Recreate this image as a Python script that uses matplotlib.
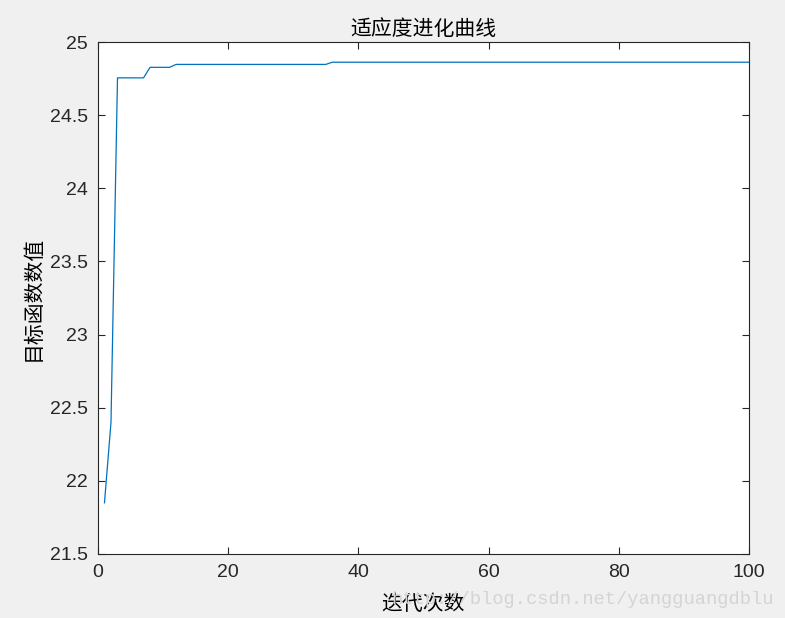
import matplotlib
matplotlib.use("Agg")
import matplotlib.pyplot as plt

# 迭代次数 1..100 与每代的最优目标函数值
iterations = list(range(1, 101))
fitness = ([21.85, 22.40]
           + [24.755] * 5
           + [24.827] * 4
           + [24.847] * 24
           + [24.862] * 65)

x_ticks = [0, 20, 40, 60, 80, 100]
y_ticks = [21.5, 22, 22.5, 23, 23.5, 24, 24.5, 25]
y_tick_labels = ["21.5", "22", "22.5", "23", "23.5", "24", "24.5", "25"]

title = "适应度进化曲线"
x_label = "迭代次数"
y_label = "目标函数数值"
watermark = "http://blog.csdn.net/yangguangdblu"

plt.rcParams["font.family"] = ["Liberation Sans", "Noto Sans CJK SC", "DejaVu Sans"]

fig = plt.figure(figsize=(7.85, 6.18), dpi=100, facecolor="#f0f0f0")
ax = fig.add_axes([0.1248, 0.1036, 0.8292, 0.8284])
ax.set_facecolor("white")

ax.plot(iterations, fitness, color="#0072bd", linewidth=0.9)

ax.set_xlim(0, 100)
ax.set_ylim(21.5, 25)
ax.set_xticks(x_ticks)
ax.set_yticks(y_ticks)
ax.set_yticklabels(y_tick_labels)
ax.tick_params(direction="in", length=5, width=0.8, colors="#262626",
               labelsize=14, top=True, right=True, pad=7)
for s in ax.spines.values():
    s.set_color("#262626")
    s.set_linewidth(0.8)

cjk = ["Noto Sans CJK SC", "DejaVu Sans"]
ax.set_title(title, fontsize=15, family=cjk, color="#000000", pad=5)
ax.set_xlabel(x_label, fontsize=15, family=cjk, labelpad=9)
ax.set_ylabel(y_label, fontsize=15, family=cjk, labelpad=5)

# 水印
fig.text(0.986, 0.016, watermark, ha="right", va="bottom", fontsize=13.5,
         family=["Liberation Mono"], color="#d4d4d4")

fig.savefig("out.png", dpi=100, facecolor=fig.get_facecolor())
